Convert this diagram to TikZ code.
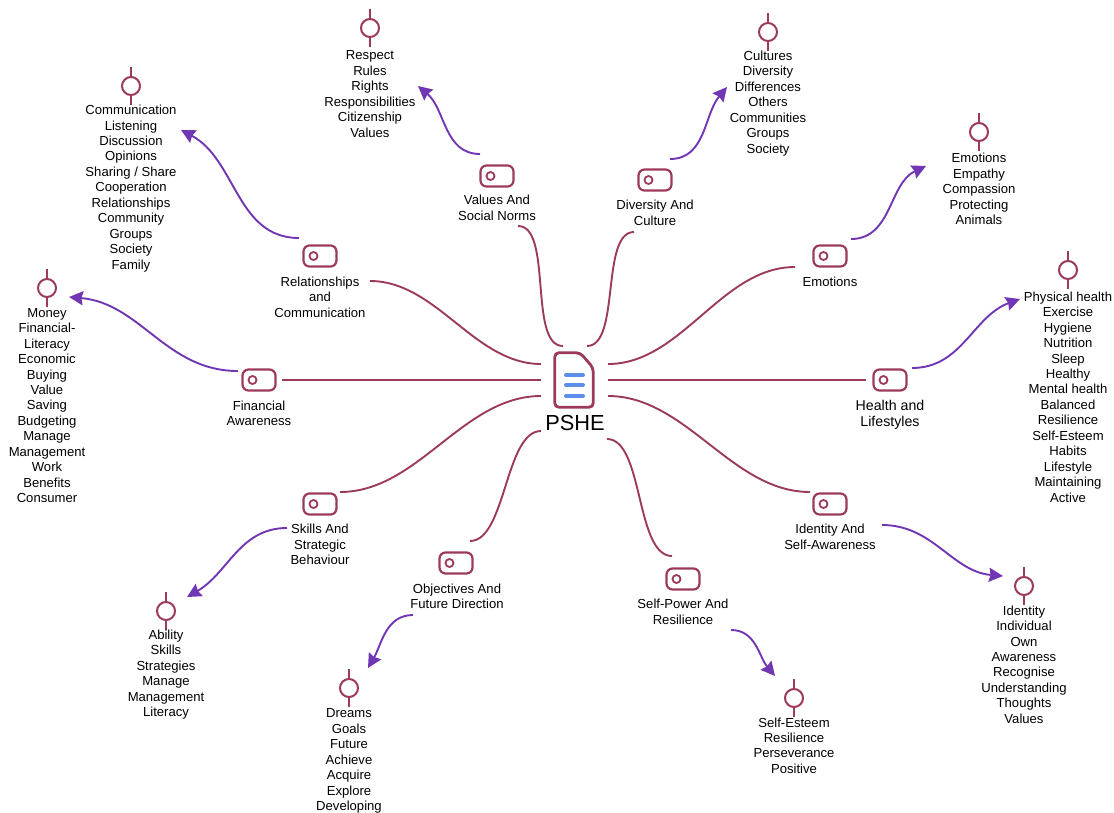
\documentclass[tikz,border=0pt]{standalone}
\usepackage{fontspec}
\setmainfont{Liberation Sans}
\usetikzlibrary{arrows.meta}
\definecolor{spokecol}{HTML}{9B3A5C}
\definecolor{branchcol}{HTML}{7036B4}
\definecolor{doccol}{HTML}{5B8FEA}
\tikzset{
tagicon/.style={
  rectangle,
  rounded corners=6pt,
  minimum width=33pt,
  minimum height=21pt,
  inner sep=0pt,
  draw=spokecol,
  line width=2.2pt,
  path picture={\draw[spokecol,line width=1.8pt] ([xshift=-6.5pt]path picture bounding box.center) circle (4pt);}
  },
pointicon/.style={
  circle,
  minimum size=18pt,
  inner sep=0pt,
  draw=spokecol,
  line width=2pt,
  append after command={
    (\tikzlastnode.north) edge[spokecol,line width=2pt] ++(0,-9)
    (\tikzlastnode.south) edge[spokecol,line width=2pt] ++(0,9)
    }
  },
txt/.style={
  inner sep=0pt,
  align=center,
  font=\fontsize{13.1}{15.45}\selectfont
  },
bigtxt/.style={
  txt,
  font=\fontsize{14.2}{16.2}\selectfont
  },
spoke/.style={draw=spokecol,line width=1.9pt},
branch/.style={color=branchcol,line width=1.9pt,-{Stealth[length=14pt,width=14pt,inset=1.5pt]}}
}
\begin{document}
\begin{tikzpicture}[x=1pt,y=-1pt]
        \useasboundingbox (0,0) rectangle (1114,812);
        % centre
        \node[minimum width=38pt,minimum height=54pt,inner sep=0pt] at (574,380) (hub) {};
        \draw[spokecol,line width=2.8pt,rounded corners=4pt] (hub.north west) -- ([xshift=-13pt]hub.north east) -- ([yshift=-15pt]hub.north east) -- (hub.south east) -- (hub.south west) -- cycle;
        \draw[doccol,line width=4pt,line cap=round] ([shift={(-8,-5)}]hub.center) -- ([shift={(9,-5)}]hub.center);
        \draw[doccol,line width=4pt,line cap=round] ([shift={(-8,5)}]hub.center) -- ([shift={(9,5)}]hub.center);
        \draw[doccol,line width=4pt,line cap=round] ([shift={(-8,16)}]hub.center) -- ([shift={(9,16)}]hub.center);
        \node[txt,font=\fontsize{21.8}{24}\selectfont] at (575,423) (pshe) {PSHE};
        % topics
        \node[tagicon] at (320,256) (relTag) {};
        \node[txt] at (320,297) (relLabel) {Relationships\\and\\Communication};
        \node[tagicon] at (497,176) (valTag) {};
        \node[txt] at (497,208) (valLabel) {Values And\\Social Norms};
        \node[tagicon] at (655,180) (divTag) {};
        \node[txt] at (655,213) (divLabel) {Diversity And\\Culture};
        \node[tagicon] at (830,256) (emoTag) {};
        \node[txt] at (830,281.5) (emoLabel) {Emotions};
        \node[tagicon] at (890,380) (heaTag) {};
        \node[bigtxt] at (890,414.5) (heaLabel) {Health and\\Lifestyles};
        \node[tagicon] at (830,504) (ideTag) {};
        \node[txt] at (830,537) (ideLabel) {Identity And\\Self-Awareness};
        \node[tagicon] at (683,579) (powTag) {};
        \node[txt] at (683,612) (powLabel) {Self-Power And\\Resilience};
        \node[tagicon] at (456,563) (objTag) {};
        \node[txt] at (457,596.5) (objLabel) {Objectives And\\Future Direction};
        \node[tagicon] at (320,504) (skiTag) {};
        \node[txt] at (320,544.5) (skiLabel) {Skills And\\Strategic\\Behaviour};
        \node[tagicon] at (259,380) (finTag) {};
        \node[txt] at (259,413.5) (finLabel) {Financial\\Awareness};
        % lists
        \node[pointicon] at (131,86) (relPoint) {};
        \node[txt] at (131,188.5) (relList) {Communication\\Listening\\Discussion\\Opinions\\Sharing / Share\\Cooperation\\Relationships\\Community\\Groups\\Society\\Family};
        \node[pointicon] at (370,28) (valPoint) {};
        \node[txt] at (370,94) (valList) {Respect\\Rules\\Rights\\Responsibilities\\Citizenship\\Values};
        \node[pointicon] at (768,32) (divPoint) {};
        \node[txt] at (768,103.5) (divList) {Cultures\\Diversity\\Differences\\Others\\Communities\\Groups\\Society};
        \node[pointicon] at (979,132) (emoPoint) {};
        \node[txt] at (979,189) (emoList) {Emotions\\Empathy\\Compassion\\Protecting\\Animals};
        \node[pointicon] at (1068,270) (heaPoint) {};
        \node[txt] at (1068,397) (heaList) {Physical health\\Exercise\\Hygiene\\Nutrition\\Sleep\\Healthy\\Mental health\\Balanced\\Resilience\\Self-Esteem\\Habits\\Lifestyle\\Maintaining\\Active};
        \node[pointicon] at (1024,586) (idePoint) {};
        \node[txt] at (1024,664.5) (ideList) {Identity\\Individual\\Own\\Awareness\\Recognise\\Understanding\\Thoughts\\Values};
        \node[pointicon] at (794,698) (powPoint) {};
        \node[txt] at (794,745.5) (powList) {Self-Esteem\\Resilience\\Perseverance\\Positive};
        \node[pointicon] at (349,688) (objPoint) {};
        \node[txt] at (349,761) (objList) {Dreams\\Goals\\Future\\Achieve\\Acquire\\Explore\\Developing};
        \node[pointicon] at (166,611) (skiPoint) {};
        \node[txt] at (166,674.5) (skiList) {Ability\\Skills\\Strategies\\Manage\\Management\\Literacy};
        \node[pointicon] at (47,288) (finPoint) {};
        \node[txt] at (47,405.5) (finList) {Money\\Financial-\\Literacy\\Economic\\Buying\\Value\\Saving\\Budgeting\\Manage\\Management\\Work\\Benefits\\Consumer};
        % centre to topics
        \path[spoke]
        ([shift={(-33,-16)}]hub.center) edge [out=180,in=0,looseness=0.9] ([shift={(50,25)}]relTag.center)
        ([shift={(-11,-34)}]hub.center) edge [out=180,in=0,looseness=0.7] ([shift={(21,50)}]valTag.center)
        ([shift={(13,-34)}]hub.center) edge [out=0,in=180,looseness=0.7] ([shift={(-21,52)}]divTag.center)
        ([shift={(34,-16)}]hub.center) edge [out=0,in=180,looseness=0.9] ([shift={(-35,11)}]emoTag.center)
        ([shift={(34,16)}]hub.center) edge [out=0,in=180,looseness=0.9] ([shift={(-20,-12)}]ideTag.center)
        ([shift={(33,59)}]hub.center) edge [out=0,in=180,looseness=0.7] ([shift={(-11,-23)}]powTag.center)
        ([shift={(-33,51)}]hub.center) edge [out=180,in=0,looseness=0.7] ([shift={(14,-22)}]objTag.center)
        ([shift={(-33,16)}]hub.center) edge [out=180,in=0,looseness=0.9] ([shift={(20,-12)}]skiTag.center)
        ([shift={(34,0)}]hub.center) edge ([shift={(-24,0)}]heaTag.center)
        ([shift={(-33,0)}]hub.center) edge ([shift={(23,0)}]finTag.center)
        ;
        % topics to lists
        \path[branch]
        ([shift={(-21,-18)}]relTag.center) edge [out=180,in=-28] ([shift={(50,44)}]relPoint.center)
        ([shift={(-17,-22)}]valTag.center) edge [out=180,in=-40] ([shift={(48,58)}]valPoint.center)
        ([shift={(15,-21)}]divTag.center) edge [out=0,in=-130] ([shift={(-41,55)}]divPoint.center)
        ([shift={(21,-17)}]emoTag.center) edge [out=0,in=205] ([shift={(-53,34)}]emoPoint.center)
        ([shift={(22,-12)}]heaTag.center) edge [out=0,in=200] ([shift={(-48,29)}]heaPoint.center)
        ([shift={(52,21)}]ideTag.center) edge [out=0,in=175] ([shift={(-21,-10)}]idePoint.center)
        ([shift={(48,51)}]powTag.center) edge [out=0,in=130] ([shift={(-19,-22)}]powPoint.center)
        ([shift={(-43,52)}]objTag.center) edge [out=180,in=60] ([shift={(19,-20)}]objPoint.center)
        ([shift={(-33,24)}]skiTag.center) edge [out=180,in=30] ([shift={(21,-14)}]skiPoint.center)
        ([shift={(-21,-9)}]finTag.center) edge [out=180,in=-5] ([shift={(22,9)}]finPoint.center)
        ;
    \end{tikzpicture}
\end{document}
